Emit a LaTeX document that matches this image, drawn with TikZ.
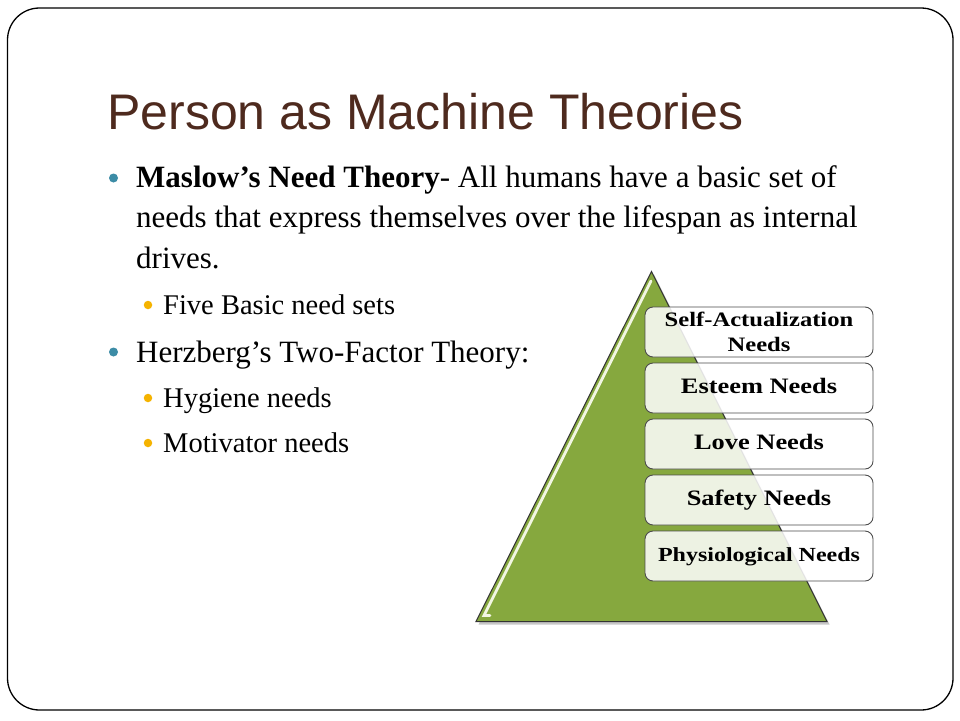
\documentclass[tikz,border=0pt]{standalone}
\usepackage{fontspec}
\setmainfont{Liberation Serif}
\newfontfamily\titlefont{Liberation Sans}
\newfontfamily\boxfont[FakeStretch=1.2]{Liberation Serif}
\definecolor{titlebrown}{HTML}{4E2A1E}
\definecolor{teal}{HTML}{3C8CA6}
\definecolor{gold}{HTML}{F5B300}
\definecolor{pyrgreen}{HTML}{86A83E}
\definecolor{pyrlight}{HTML}{F2F6E2}
\tikzset{
  body/.style={anchor=base west, inner sep=0pt, font=\fontsize{31}{36}\selectfont},
  subbody/.style={anchor=base west, inner sep=0pt, font=\fontsize{28.5}{32}\selectfont},
  mainbullet/.style={circle, fill=teal, inner sep=0pt, minimum size=9pt},
  subbullet/.style={circle, fill=gold, inner sep=0pt, minimum size=8.5pt},
  needbox/.style={rectangle, rounded corners=8pt, draw=black!70, line width=0.9pt,
    fill=white, fill opacity=0.86, text opacity=1, minimum width=228pt, minimum height=50pt,
    inner sep=0pt, align=center, font=\boxfont\bfseries\fontsize{22}{24}\selectfont,
    text height=15pt, text depth=3.5pt},
  boxtext/.style={anchor=base, inner sep=0pt, font=\boxfont\bfseries\fontsize{20.5}{22}\selectfont}
}
\begin{document}
\begin{tikzpicture}[x=1pt,y=-1pt]
\useasboundingbox (0,0) rectangle (960,720);
\fill[white] (0,0) rectangle (960,720);
% slide frame
\draw[line width=1.3pt, rounded corners=32pt] (7.5,8) rectangle (953,710);
% title
\node[anchor=base west, inner sep=0pt, text=titlebrown, font=\titlefont\fontsize{50}{56}\selectfont] (title) at (107,129) {Person as Machine Theories};
% body
\node[mainbullet] (b1) at (113.5,178) {};
\node[body] (l1) at (136,187) {\textbf{Maslow’s Need Theory}- All humans have a basic set of};
\node[body] (l2) at (136,227.5) {needs that express themselves over the lifespan as internal};
\node[body] (l3) at (136,268.5) {drives.};
\node[subbullet] (s1) at (148,305) {};
\node[subbody] (l4) at (163,314.5) {Five Basic need sets};
\node[mainbullet] (b2) at (113.5,352) {};
\node[body] (l5) at (136,362) {Herzberg’s Two-Factor Theory:};
\node[subbullet] (s2) at (148,398) {};
\node[subbody] (l6) at (163,407.5) {Hygiene needs};
\node[subbullet] (s3) at (148,443) {};
\node[subbody] (l7) at (163,452) {Motivator needs};
% pyramid
\coordinate (apex) at (651.5,271.5);
\coordinate (bl) at (476,621.5);
\coordinate (br) at (827,621.5);
\fill[black, opacity=0.22] ([shift={(2.5,3)}]apex) -- ([shift={(2.5,3)}]br) -- ([shift={(2.5,3)}]bl) -- cycle;
\filldraw[fill=pyrgreen, draw=black!80, line width=1pt] (apex) -- (br) -- (bl) -- cycle;
\draw[pyrlight, line width=2.8pt, line cap=round] (651,281) -- (484,615.5) -- (490,615.5);
% need boxes
\node[needbox] (n1) at (759,332) {};
\node[boxtext] (n1a) at (759,326) {Self-Actualization};
\node[boxtext] (n1b) at (759,351) {Needs};
\node[needbox] (n2) at (759,388) {Esteem Needs};
\node[needbox] (n3) at (759,444) {Love Needs};
\node[needbox] (n4) at (759,500) {Safety Needs};
\node[needbox, font=\boxfont\bfseries\fontsize{20}{22}\selectfont] (n5) at (759,556) {Physiological Needs};
\end{tikzpicture}
\end{document}
